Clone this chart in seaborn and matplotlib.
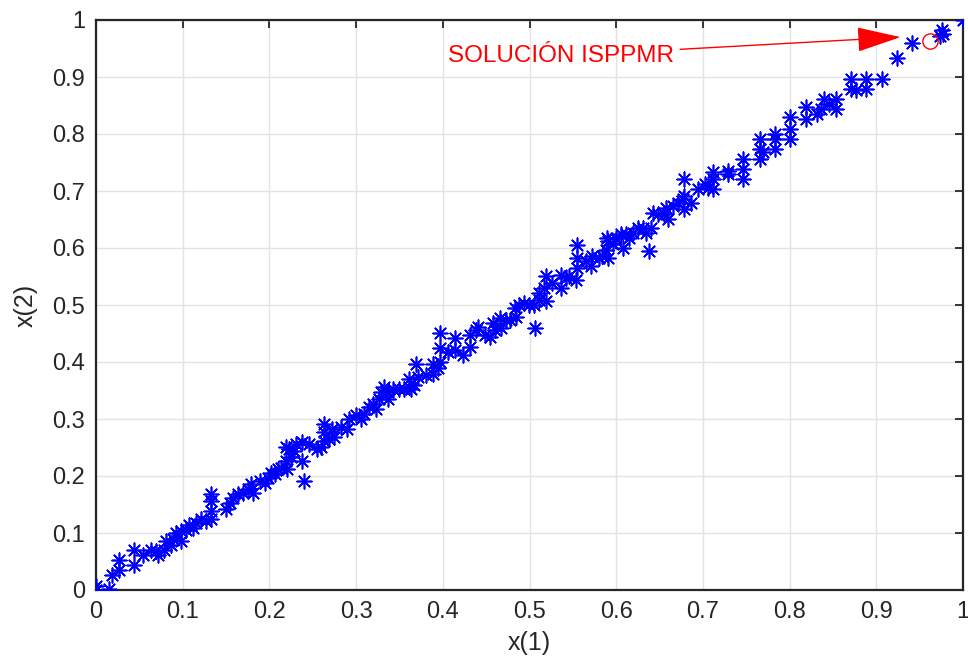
import matplotlib
matplotlib.use("Agg")
import matplotlib.pyplot as plt
import seaborn as sns
import pandas as pd

# ---- data ----
x1 = [0.000, 0.000, 0.015, 0.018, 0.027, 0.027, 0.044, 0.044, 0.054, 0.063, 0.069, 0.072, 0.078, 0.081, 0.087, 0.089, 0.098, 0.098, 0.104, 0.107, 0.112,
      0.092, 0.115, 0.121, 0.127, 0.133, 0.133, 0.133, 0.133, 0.150, 0.155, 0.158, 0.164, 0.170, 0.175, 0.179, 0.181, 0.189, 0.195, 0.198, 0.202, 0.206, 0.210, 0.213,
      0.220, 0.219, 0.225, 0.223, 0.219, 0.228, 0.231, 0.238, 0.238, 0.246, 0.240, 0.255, 0.260, 0.263, 0.263, 0.263, 0.269, 0.272, 0.275, 0.283, 0.289, 0.292,
      0.300, 0.306, 0.309, 0.315, 0.319, 0.323, 0.326, 0.329, 0.332, 0.337, 0.337, 0.343, 0.349, 0.355, 0.361, 0.361, 0.363, 0.367, 0.371, 0.369, 0.381, 0.389, 0.389,
      0.394, 0.397, 0.397, 0.397, 0.406, 0.414, 0.414, 0.423, 0.431, 0.431, 0.438, 0.441, 0.449, 0.454, 0.458, 0.460, 0.466, 0.467, 0.473, 0.478, 0.484, 0.483, 0.506,
      0.488, 0.494, 0.499, 0.505, 0.511, 0.511, 0.517, 0.519, 0.519, 0.526, 0.536, 0.536, 0.542, 0.546, 0.554, 0.555, 0.555, 0.555, 0.565, 0.571, 0.572, 0.580, 0.584, 0.588, 0.589,
      0.591, 0.591, 0.596, 0.600, 0.606, 0.608, 0.611, 0.615, 0.619, 0.625, 0.631, 0.634, 0.638, 0.640, 0.642, 0.648, 0.655, 0.657, 0.660, 0.666, 0.671, 0.677, 0.678, 0.678, 0.686, 0.678, 0.694,
      0.702, 0.706, 0.712, 0.712, 0.712, 0.729, 0.729, 0.746, 0.746, 0.746, 0.766, 0.766, 0.766, 0.769, 0.783, 0.783, 0.783, 0.800, 0.800, 0.800,
      0.819, 0.819, 0.832, 0.836, 0.840, 0.845, 0.854, 0.854, 0.871, 0.871, 0.877, 0.888, 0.888, 0.907,
      0.924, 0.941, 0.976, 0.977, 0.973, 1.000]
x2 = [0.007, 0.000, 0.002, 0.026, 0.035, 0.053, 0.044, 0.070, 0.061, 0.070, 0.068, 0.061, 0.070, 0.086, 0.079, 0.089, 0.086, 0.104, 0.105, 0.114, 0.109,
      0.100, 0.118, 0.125, 0.121, 0.125, 0.139, 0.156, 0.168, 0.142, 0.153, 0.161, 0.168, 0.170, 0.177, 0.186, 0.170, 0.191, 0.188, 0.196, 0.205, 0.204, 0.212, 0.214,
      0.212, 0.226, 0.233, 0.247, 0.251, 0.244, 0.256, 0.260, 0.226, 0.256, 0.191, 0.247, 0.251, 0.261, 0.277, 0.291, 0.265, 0.282, 0.268, 0.286, 0.282, 0.300,
      0.307, 0.300, 0.309, 0.321, 0.326, 0.318, 0.335, 0.347, 0.356, 0.347, 0.335, 0.353, 0.353, 0.353, 0.356, 0.370, 0.353, 0.360, 0.374, 0.396, 0.377, 0.379, 0.396,
      0.389, 0.400, 0.425, 0.451, 0.418, 0.442, 0.421, 0.412, 0.426, 0.447, 0.456, 0.461, 0.447, 0.444, 0.468, 0.456, 0.477, 0.460, 0.474, 0.474, 0.479, 0.495, 0.460,
      0.500, 0.504, 0.500, 0.500, 0.509, 0.521, 0.530, 0.507, 0.551, 0.539, 0.530, 0.553, 0.547, 0.551, 0.544, 0.565, 0.582, 0.605, 0.577, 0.568, 0.586, 0.582, 0.586, 0.596, 0.618,
      0.612, 0.582, 0.607, 0.618, 0.625, 0.600, 0.625, 0.618, 0.626, 0.635, 0.635, 0.626, 0.595, 0.635, 0.661, 0.660, 0.660, 0.670, 0.651, 0.674, 0.679, 0.686, 0.668, 0.691, 0.679, 0.721, 0.704,
      0.712, 0.705, 0.704, 0.721, 0.733, 0.735, 0.730, 0.756, 0.739, 0.721, 0.791, 0.774, 0.756, 0.768, 0.800, 0.791, 0.774, 0.830, 0.809, 0.791,
      0.847, 0.826, 0.835, 0.844, 0.861, 0.853, 0.861, 0.844, 0.896, 0.879, 0.877, 0.896, 0.879, 0.896,
      0.933, 0.960, 0.982, 0.975, 0.972, 1.000]

solution_x = [0.962]
solution_y = [0.963]
annotation_text = "SOLUCIÓN ISPPMR"
ticks = [0, 0.1, 0.2, 0.3, 0.4, 0.5, 0.6, 0.7, 0.8, 0.9, 1]
tick_labels = ["0", "0.1", "0.2", "0.3", "0.4", "0.5", "0.6", "0.7", "0.8", "0.9", "1"]

df = pd.DataFrame({"x(1)": x1, "x(2)": x2})

sns.set_theme(style="white")
plt.rcParams["font.family"] = ["Liberation Sans", "DejaVu Sans"]

fig = plt.figure(figsize=(9.68, 6.64), dpi=100)
ax = fig.add_axes([96 / 968, 74 / 664, 867 / 968, 570 / 664])

sns.scatterplot(data=df, x="x(1)", y="x(2)", ax=ax, marker=(8, 2, 0), s=110,
                color="#0000ff", linewidth=1.2, legend=False, zorder=3)

# solution marker
ax.plot(solution_x, solution_y, marker="o", markersize=11, markerfacecolor="none",
        markeredgecolor="#ff0000", markeredgewidth=1.0, linestyle="none", zorder=4)

ax.annotate(annotation_text, xy=(0.928, 0.970), xytext=(0.406, 0.937),
            color="#ff0000", fontsize=17.5, va="center", ha="left",
            arrowprops=dict(arrowstyle="-|>,head_length=1.6,head_width=0.45",
                            color="#ff0000", lw=1.0, shrinkA=2, shrinkB=0),
            zorder=5)

ax.set_xlim(0, 1)
ax.set_ylim(0, 1)
ax.set_xticks(ticks)
ax.set_yticks(ticks)
ax.set_xticklabels(tick_labels)
ax.set_yticklabels(tick_labels)
ax.grid(True, color="#e3e3e3", linewidth=1.0, zorder=0)
ax.set_axisbelow(True)
for sp in ax.spines.values():
    sp.set_visible(True)
    sp.set_color("#262626")
    sp.set_linewidth(1.6)
ax.tick_params(axis="both", direction="in", length=6, width=1.3, colors="#262626",
               labelsize=17, top=True, right=True, pad=8, labelcolor="#262626")
ax.set_xlabel("x(1)", fontsize=18, color="#262626", labelpad=6)
ax.set_ylabel("x(2)", fontsize=18, color="#262626", labelpad=10)

fig.savefig("out.png", dpi=100)
